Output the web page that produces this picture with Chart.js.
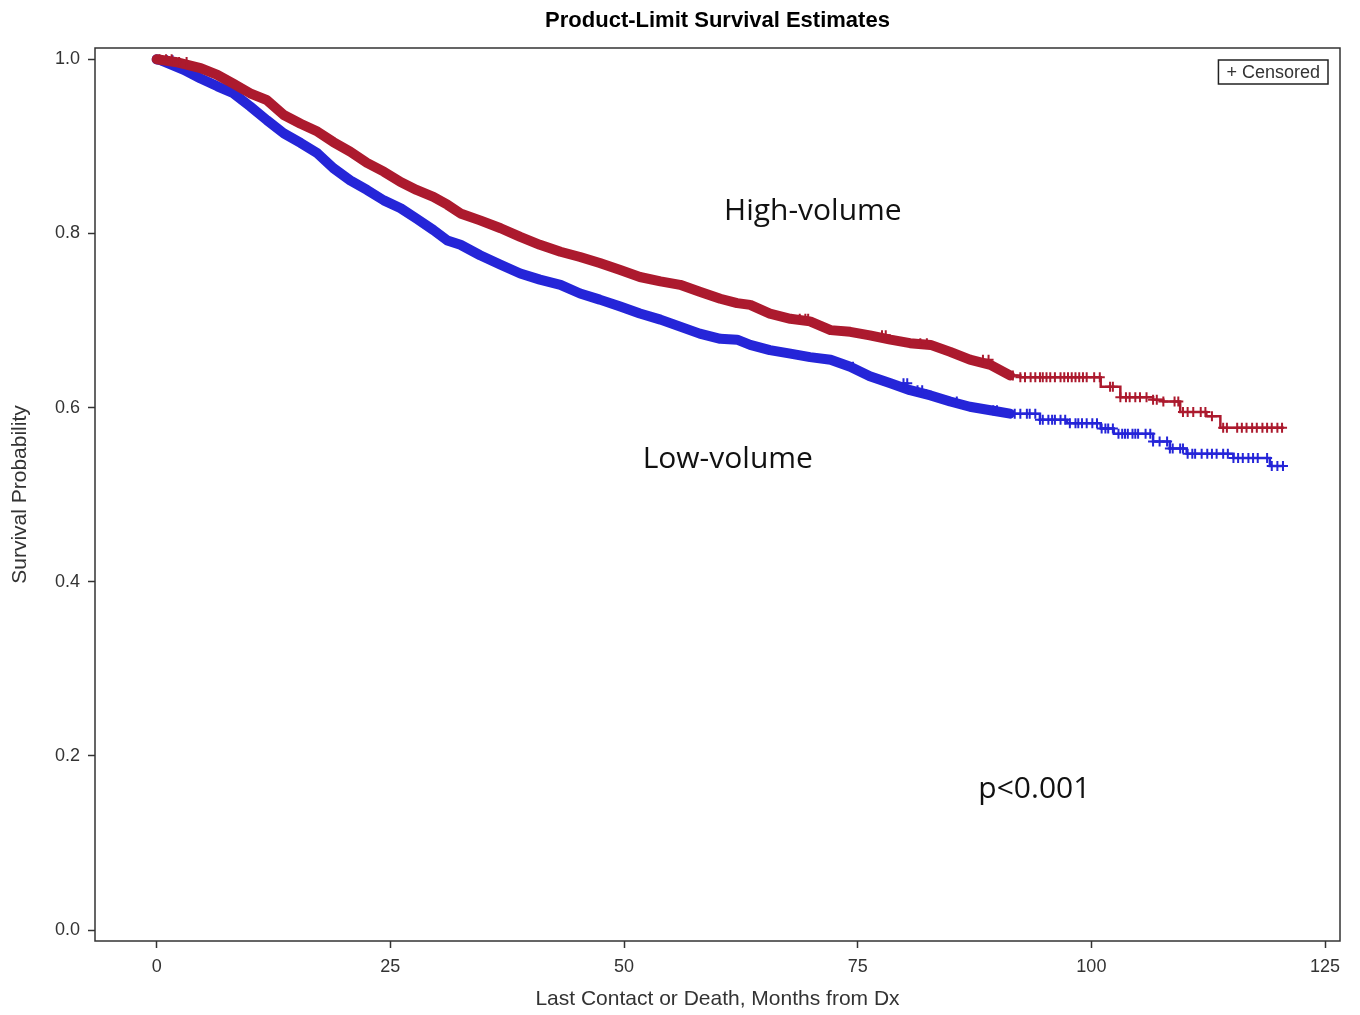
<!DOCTYPE html>
<html>
<head>
<meta charset="utf-8">
<script src="https://cdn.jsdelivr.net/npm/chart.js@4/dist/chart.umd.min.js"></script>
<style>
  html, body { margin: 0; padding: 0; background: #fff; }
  #wrap { width: 1360px; height: 1015px; }
</style>
</head>
<body>
<div id="wrap"><canvas id="km"></canvas></div>
<script>
// KM step curves (months, survival)
const highTimes = [0, 2, 4.7, 6.5, 8.2, 10, 11.8, 13.6, 15.4, 17.2, 18.9, 20.7, 22.5, 24.3, 26.1, 27.8,
  29.6, 31.1, 32.5, 34.6, 36.8, 38.9, 41, 43.2, 45.3, 47.4, 49.6, 51.7, 53.9, 56, 58.1, 60.3, 62.1,
  63.5, 65.6, 67.8, 69.9, 72.1, 74.2, 76.3, 78.5, 80.6, 82.8, 84.9, 87, 89.2, 91.3, 92.4, 101, 103.1,
  106.6, 107.7, 109.5, 112.3, 113.8, 120.6];
const highSurv = [1.000, 0.997, 0.990, 0.982, 0.972, 0.961, 0.953, 0.936, 0.926, 0.917, 0.905, 0.894,
  0.881, 0.871, 0.859, 0.850, 0.842, 0.833, 0.823, 0.815, 0.806, 0.796, 0.787, 0.779, 0.773, 0.766,
  0.758, 0.750, 0.745, 0.741, 0.733, 0.725, 0.720, 0.718, 0.708, 0.702, 0.699, 0.689, 0.687, 0.683,
  0.678, 0.674, 0.672, 0.664, 0.655, 0.649, 0.637, 0.635, 0.624, 0.612, 0.609, 0.607, 0.595, 0.590,
  0.577, 0.577];

const lowTimes = [0, 0.4, 2.9, 4.7, 6.5, 8.2, 10, 11.8, 13.6, 15.4, 17.2, 18.9, 20.7, 22.5, 24.3, 26.1,
  27.8, 29.6, 31.1, 32.5, 34.6, 36.8, 38.9, 41, 43.2, 45.3, 47.4, 49.6, 51.7, 53.9, 56, 58.1, 60.3,
  62.1, 63.5, 65.6, 67.8, 69.9, 72.1, 74.2, 76.3, 78.5, 80.6, 82.8, 84.9, 87, 89.2, 91.3, 94.5, 97.4,
  101, 102.4, 106.6, 108.4, 110.2, 115.2, 119.1, 120.6];
const lowSurv = [1.000, 0.999, 0.988, 0.978, 0.969, 0.961, 0.946, 0.930, 0.915, 0.904, 0.892, 0.875,
  0.861, 0.850, 0.838, 0.829, 0.817, 0.804, 0.792, 0.787, 0.775, 0.764, 0.754, 0.747, 0.741, 0.731,
  0.724, 0.716, 0.708, 0.701, 0.693, 0.685, 0.679, 0.678, 0.672, 0.666, 0.662, 0.658, 0.655, 0.647,
  0.636, 0.628, 0.620, 0.614, 0.607, 0.601, 0.597, 0.593, 0.586, 0.582, 0.576, 0.570, 0.561, 0.553,
  0.547, 0.542, 0.533, 0.533];

// censored times (months) where separate "+" marks are visible
const highCensored = [0.3, 1.0, 1.6, 2.4, 3.2, 68.8, 69.4, 69.7, 77.6, 78.0, 81.7, 82.4, 88.4, 89.0,
  91.6, 92.4, 92.9, 93.5, 94.0, 94.5, 94.8, 95.2, 95.6, 96.1, 96.7, 97.1, 97.5, 97.9, 98.3, 98.7, 99.1,
  99.5, 100.3, 100.9, 102.0, 102.3, 103.1, 103.7, 104.1, 104.7, 105.2, 105.9, 106.6, 107.0, 107.7,
  108.9, 109.3, 109.8, 110.3, 110.9, 111.7, 112.2, 112.9, 114.1, 114.5, 115.6, 116.1, 116.6, 117.2,
  117.7, 118.3, 118.8, 119.3, 119.9, 120.4];
const lowCensored = [0.5, 1.1, 1.7, 74.5, 79.9, 80.3, 81.4, 81.9, 85.6, 89.5, 89.9, 91.8, 92.4, 93.1,
  93.4, 94.0, 94.5, 94.8, 95.4, 95.8, 96.1, 96.7, 97.2, 97.7, 98.3, 98.6, 99.0, 99.5, 100.1, 100.6,
  101.1, 101.5, 101.8, 102.3, 102.9, 103.3, 103.6, 103.9, 104.4, 104.7, 105.0, 105.8, 106.3, 106.6,
  107.3, 108.1, 108.4, 108.7, 109.5, 109.8, 110.3, 110.8, 111.1, 111.8, 112.4, 112.9, 113.4, 114.1,
  114.6, 115.2, 115.7, 116.2, 116.8, 117.3, 117.8, 118.8, 119.3, 119.9, 120.5];

const xTicks = [0, 25, 50, 75, 100, 125];
const yTicks = [0, 0.2, 0.4, 0.6, 0.8, 1.0];

const RED = '#AC1A2E';
const BLUE = '#2525D8';
const DENSE_UNTIL = 91; // months where the censor marks merge into a solid band

function stepAt(times, surv, t) {
  let s = surv[0];
  for (let i = 0; i < times.length; i++) { if (times[i] <= t) s = surv[i]; }
  return s;
}
const curve = (times, surv) => times.map((t, i) => ({ x: t, y: surv[i] }));
const marks = (cens, times, surv) => cens.map(t => ({ x: t, y: stepAt(times, surv, t) }));

const notes = [
  { text: 'High-volume', x: 70.2, y: 0.825, size: 30 },
  { text: 'Low-volume', x: 61.1, y: 0.540, size: 30 },
  { text: 'p<0.001', x: 93.9, y: 0.161, size: 30 }
];

const decor = {
  id: 'decor',
  beforeDatasetsDraw(chart) {
    const { ctx, chartArea: a } = chart;
    ctx.save();
    ctx.strokeStyle = '#333';
    ctx.lineWidth = 1.5;
    ctx.strokeRect(a.left, a.top, a.right - a.left, a.bottom - a.top);
    ctx.restore();
  },
  afterDraw(chart) {
    const { ctx, chartArea: a, scales } = chart;
    ctx.save();
    ctx.fillStyle = '#000';
    ctx.textAlign = 'center';
    ctx.textBaseline = 'middle';
    ctx.font = 'bold 22px "Liberation Sans", Arial, sans-serif';
    ctx.fillText('Product-Limit Survival Estimates', (a.left + a.right) / 2, 21);

    notes.forEach(n => {
      ctx.font = n.size + 'px "Open Sans", sans-serif';
      ctx.fillStyle = '#111';
      ctx.fillText(n.text, scales.x.getPixelForValue(n.x), scales.y.getPixelForValue(n.y));
    });

    // censored legend box
    ctx.font = '18px "Liberation Sans", Arial, sans-serif';
    const label = '+ Censored';
    const w = ctx.measureText(label).width + 16;
    const bx = a.right - 12 - w, by = a.top + 12, bh = 24;
    ctx.strokeStyle = '#222';
    ctx.lineWidth = 1.5;
    ctx.strokeRect(bx, by, w, bh);
    ctx.fillStyle = '#333';
    ctx.textAlign = 'left';
    ctx.fillText(label, bx + 8, by + bh / 2 + 1);
    ctx.restore();
  }
};

const tickFont = { family: '"Liberation Sans", Arial, sans-serif', size: 18 };
const titleFont = { family: '"Liberation Sans", Arial, sans-serif', size: 21 };
const early = color => ctx => (ctx.p0.parsed.x < DENSE_UNTIL ? color : 'rgba(0,0,0,0)');
const late = color => ctx => (ctx.p0.parsed.x < DENSE_UNTIL ? 'rgba(0,0,0,0)' : color);

function group(name, times, surv, cens, color, base) {
  return [
    // dense censoring band
    { label: name + ' band', data: curve(times, surv), showLine: true, borderColor: color,
      pointRadius: 0, borderWidth: 10, borderJoinStyle: 'round', borderCapStyle: 'round',
      segment: { borderColor: early(color) }, order: base + 2 },
    // step curve where marks are sparse
    { label: name, data: curve(times, surv), showLine: true, stepped: true, borderColor: color,
      pointRadius: 0, borderWidth: 2.5, segment: { borderColor: late(color) }, order: base + 1 },
    { label: name + ' censored', data: marks(cens, times, surv), pointStyle: 'cross',
      pointRadius: 5, borderWidth: 2, borderColor: color, order: base }
  ];
}

new Chart(document.getElementById('km').getContext('2d'), {
  type: 'scatter',
  data: {
    datasets: [
      ...group('High-volume', highTimes, highSurv, highCensored, RED, 0),
      ...group('Low-volume', lowTimes, lowSurv, lowCensored, BLUE, 3)
    ]
  },
  options: {
    responsive: true,
    maintainAspectRatio: false,
    animation: false,
    devicePixelRatio: 1,
    layout: { padding: { top: 48, right: 20, bottom: 0, left: 0 } },
    plugins: { legend: { display: false }, tooltip: { enabled: false } },
    scales: {
      x: {
        type: 'linear', min: -6.6, max: 126.6,
        afterFit: s => { s.height = 74; },
        afterBuildTicks: s => { s.ticks = xTicks.map(v => ({ value: v })); },
        ticks: { font: tickFont, color: '#333', padding: 8, maxRotation: 0, includeBounds: false },
        grid: { display: true, drawOnChartArea: false, drawTicks: true, tickLength: 7, tickWidth: 1.5, tickColor: '#333' },
        border: { display: false },
        title: { display: true, text: 'Last Contact or Death, Months from Dx', font: titleFont, color: '#333', padding: { top: 4, bottom: 3 } }
      },
      y: {
        type: 'linear', min: -0.0126, max: 1.013,
        afterFit: s => { s.width = 95; },
        afterBuildTicks: s => { s.ticks = yTicks.map(v => ({ value: v })); },
        ticks: { font: tickFont, color: '#333', padding: 8, callback: v => v.toFixed(1) },
        grid: { display: true, drawOnChartArea: false, drawTicks: true, tickLength: 7, tickWidth: 1.5, tickColor: '#333' },
        border: { display: false },
        title: { display: true, text: 'Survival Probability', font: titleFont, color: '#333', padding: { top: 8, bottom: 0 } }
      }
    }
  },
  plugins: [decor]
});
</script>
</body>
</html>
